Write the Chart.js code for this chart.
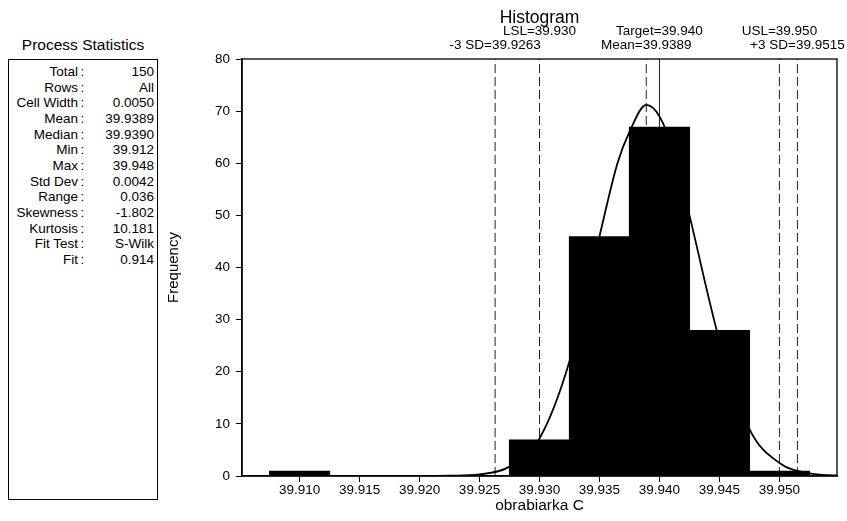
<!DOCTYPE html>
<html>
<head>
<meta charset="utf-8">
<script src="https://cdn.jsdelivr.net/npm/chart.js@4.4.0/dist/chart.umd.min.js"></script>
<style>
html, body { margin: 0; padding: 0; background: #fff; }
body { width: 847px; height: 521px; position: relative; overflow: hidden;
       font-family: "Liberation Sans", Arial, sans-serif; color: #000; }
#c { position: absolute; left: 0; top: 0; }
#statsTitle { position: absolute; left: 8px; width: 150px; top: 36px; text-align: center; font-size: 15.5px; }
#stats { position: absolute; left: 8px; top: 59px; width: 150px; height: 441px;
         border: 1.5px solid #000; box-sizing: border-box; }
.row { position: absolute; left: 0; width: 100%; height: 16px; font-size: 13.5px; line-height: 16px; }
.lab { position: absolute; right: 79px; }
.col { position: absolute; left: 71.5px; }
.val { position: absolute; right: 3px; }
</style>
</head>
<body>
<div id="statsTitle">Process Statistics</div>
<div id="stats"></div>
<canvas id="c" width="847" height="521"></canvas>
<script>
// --- data ---
const statLabels = ['Total', 'Rows', 'Cell Width', 'Mean', 'Median', 'Min', 'Max',
                    'Std Dev', 'Range', 'Skewness', 'Kurtosis', 'Fit Test', 'Fit'];
const statValues = ['150', 'All', '0.0050', '39.9389', '39.9390', '39.912', '39.948',
                    '0.0042', '0.036', '-1.802', '10.181', 'S-Wilk', '0.914'];

const binCenters = [39.910, 39.915, 39.920, 39.925, 39.930, 39.935, 39.940, 39.945, 39.950];
const binCounts  = [1, 0, 0, 0, 7, 46, 67, 28, 1];

// fitted normal curve
const curveX = [39.9052, 39.9150, 39.9200, 39.9225, 39.9250, 39.9275, 39.9300, 39.9325, 39.9350,
                39.9365, 39.9375, 39.9389, 39.9400, 39.9412, 39.9425, 39.9450, 39.9475, 39.9500,
                39.9525, 39.9548];
const curveY = [0, 0, 0, 0.05, 0.3, 1.8, 7.2, 22, 46, 60, 66, 71.2, 69, 62, 50, 26, 9, 2.5, 0.5, 0.1];

const xTicks = [39.910, 39.915, 39.920, 39.925, 39.930, 39.935, 39.940, 39.945, 39.950];

// spec limits (top label row) and distribution lines (second row)
const specNames  = ['LSL', 'Target', 'USL'];
const specValues = [39.930, 39.940, 39.950];
const specText   = ['39.930', '39.940', '39.950'];
const distNames  = ['-3 SD', 'Mean', '+3 SD'];
const distValues = [39.9263, 39.9389, 39.9515];
const distText   = ['39.9263', '39.9389', '39.9515'];

// --- stats panel ---
const box = document.getElementById('stats');
statLabels.forEach((l, i) => {
  const r = document.createElement('div');
  r.className = 'row';
  r.style.top = (4 + i * 15.67) + 'px';
  r.innerHTML = '<span class="lab">' + l + '</span><span class="col">:</span>' +
                '<span class="val">' + statValues[i] + '</span>';
  box.appendChild(r);
});

// --- chart ---
const FONT = '"Liberation Sans", Arial, sans-serif';

const vline = (v, dashed) => ({
  type: 'line',
  data: [{ x: v, y: 0 }, { x: v, y: 80 }],
  borderColor: '#222', borderWidth: 1, borderDash: dashed ? [9, 4] : [],
  pointRadius: 0, fill: false, order: 3
});

const frameAndText = {
  id: 'frameAndText',
  afterDraw(chart) {
    const { ctx, chartArea: a, scales: { x } } = chart;
    ctx.save();
    ctx.strokeStyle = '#000';
    ctx.lineWidth = 1.3;
    ctx.strokeRect(a.left, a.top, a.right - a.left, a.bottom - a.top);

    ctx.fillStyle = '#000';
    ctx.textAlign = 'center';
    ctx.textBaseline = 'middle';
    ctx.font = '17.5px ' + FONT;
    ctx.fillText('Histogram', (a.left + a.right) / 2, 18);

    ctx.font = '13.5px ' + FONT;
    specValues.forEach((v, i) => {
      ctx.fillText(specNames[i] + '=' + specText[i], x.getPixelForValue(v), 31.5);
    });
    distValues.forEach((v, i) => {
      ctx.fillText(distNames[i] + '=' + distText[i], x.getPixelForValue(v), 45.5);
    });
    ctx.restore();
  }
};

new Chart(document.getElementById('c'), {
  type: 'bar',
  data: {
    datasets: [
      {
        type: 'line',
        data: curveX.map((v, i) => ({ x: v, y: curveY[i] })),
        borderColor: '#000', borderWidth: 1.8, pointRadius: 0,
        tension: 0.4, cubicInterpolationMode: 'monotone', fill: false, order: 1
      },
      {
        type: 'bar',
        data: binCenters.map((v, i) => ({ x: v, y: binCounts[i] })),
        backgroundColor: '#000', borderWidth: 0,
        barPercentage: 1.02, categoryPercentage: 1, order: 2
      },
      ...distValues.map(v => vline(v, true)),
      ...specValues.map((v, i) => vline(v, specNames[i] !== 'Target'))
    ]
  },
  options: {
    responsive: false,
    animation: false,
    devicePixelRatio: 1,
    layout: { padding: { left: 161, right: 10, top: 59, bottom: 2 } },
    plugins: { legend: { display: false }, tooltip: { enabled: false }, title: { display: false } },
    scales: {
      x: {
        type: 'linear', min: 39.9052, max: 39.9548, offset: false,
        afterBuildTicks: s => { s.ticks = xTicks.map(v => ({ value: v })); },
        afterFit: s => { s.height = 43; },
        ticks: { color: '#000', font: { family: FONT, size: 13.5 }, padding: 0,
                 maxRotation: 0, autoSkip: false, callback: v => v.toFixed(3) },
        grid: { drawOnChartArea: false, offset: false, tickLength: 6, color: '#000' },
        border: { color: '#000', width: 1.5 },
        title: { display: true, text: 'obrabiarka C', color: '#000',
                 font: { family: FONT, size: 15.5 }, padding: { top: 4, bottom: 4 } }
      },
      y: {
        min: 0, max: 80,
        afterFit: s => { s.width = 81; },
        ticks: { stepSize: 10, color: '#000', font: { family: FONT, size: 13.5 }, padding: 6 },
        grid: { drawOnChartArea: false, tickLength: 6, color: '#000' },
        border: { color: '#000', width: 1.5 },
        title: { display: true, text: 'Frequency', color: '#000',
                 font: { family: FONT, size: 15 }, padding: { top: 4, bottom: 4 } }
      }
    }
  },
  plugins: [frameAndText]
});
</script>
</body>
</html>
